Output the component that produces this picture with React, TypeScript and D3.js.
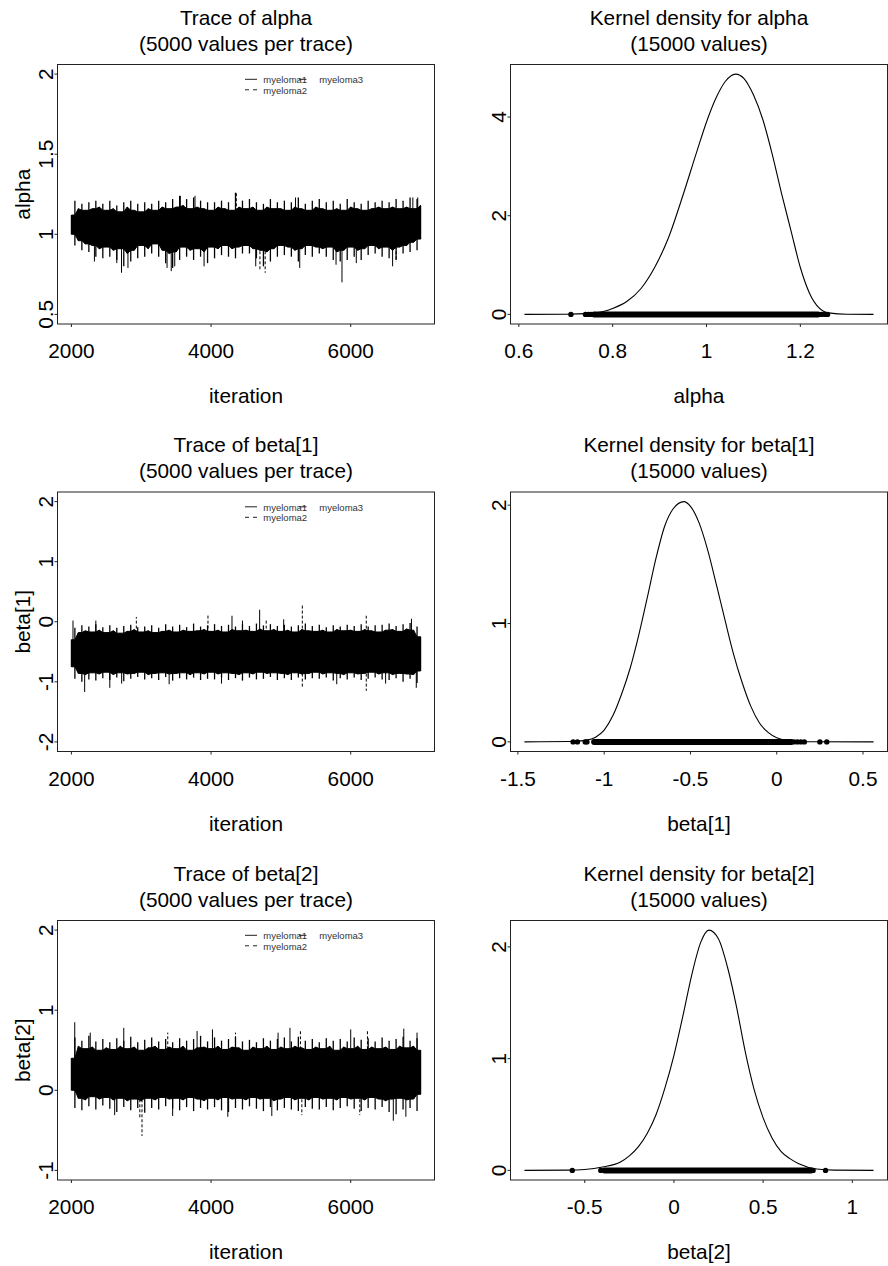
import React from "react";
import * as d3 from "d3";

// ---------- data ----------
const iterTicks = [2000, 4000, 6000];
const iterGrid = d3.range(2000, 7001, 50); // 101 points of the trace envelope

const alphaHi = [
  1.12,1.21,1.16,1.19,1.15,1.20,1.16,1.21,1.17,1.19,
  1.15,1.21,1.16,1.18,1.14,1.20,1.17,1.21,1.15,1.19,
  1.14,1.20,1.16,1.19,1.15,1.21,1.17,1.20,1.16,1.22,
  1.17,1.24,1.18,1.22,1.16,1.23,1.17,1.21,1.16,1.20,
  1.15,1.20,1.17,1.21,1.16,1.20,1.15,1.26,1.17,1.21,
  1.16,1.22,1.17,1.20,1.15,1.19,1.17,1.22,1.16,1.20,
  1.16,1.21,1.15,1.20,1.17,1.23,1.16,1.19,1.15,1.21,
  1.17,1.22,1.16,1.20,1.15,1.21,1.16,1.19,1.15,1.22,
  1.17,1.20,1.16,1.19,1.15,1.21,1.16,1.20,1.17,1.21,
  1.16,1.20,1.17,1.22,1.16,1.21,1.17,1.23,1.16,1.22,
  1.18];
const alphaLo = [
  1.00,0.93,0.96,0.90,0.94,0.89,0.93,0.86,0.91,0.85,
  0.92,0.86,0.90,0.84,0.91,0.80,0.88,0.83,0.90,0.85,
  0.93,0.86,0.91,0.88,0.94,0.86,0.90,0.82,0.88,0.79,
  0.89,0.84,0.92,0.86,0.90,0.84,0.91,0.86,0.89,0.82,
  0.92,0.85,0.91,0.87,0.93,0.86,0.91,0.85,0.92,0.88,
  0.93,0.88,0.91,0.85,0.90,0.80,0.89,0.83,0.91,0.86,
  0.93,0.87,0.92,0.86,0.90,0.83,0.91,0.87,0.93,0.86,
  0.92,0.88,0.91,0.86,0.92,0.84,0.89,0.83,0.90,0.84,
  0.92,0.86,0.90,0.84,0.91,0.87,0.93,0.88,0.91,0.86,
  0.92,0.85,0.90,0.84,0.92,0.88,0.93,0.89,0.95,0.90,
  0.97];
const alphaSpikes = [
  [2330,0.83,1],[2650,0.82,1],[2718,0.76,1],[2810,0.79,1],[3370,0.79,1],[3430,0.77,1],[3480,0.80,1],
  [3900,0.80,1],[4640,0.80,1],[4700,0.78,2],[4775,0.76,2],[5270,0.79,1],[5790,0.81,1],[5875,0.70,1],
  [6080,0.82,1],[6600,0.80,1],[6650,0.83,2],
  [3560,1.24,1],[3770,1.24,1],[4362,1.26,2],[5210,1.23,1],[6890,1.23,1],[6960,1.23,1],
];

const beta1Hi = [
  -0.30,-0.10,-0.18,-0.06,-0.15,-0.08,-0.17,-0.04,-0.14,-0.09,
  -0.18,-0.06,-0.15,-0.10,-0.19,-0.07,-0.16,-0.05,-0.13,-0.09,
  -0.17,-0.08,-0.15,-0.06,-0.18,-0.10,-0.16,-0.04,-0.14,-0.08,
  -0.17,-0.05,-0.14,-0.09,-0.16,-0.03,-0.15,-0.08,-0.13,-0.06,
  -0.16,-0.04,-0.14,-0.07,-0.17,-0.05,-0.13,-0.08,-0.15,-0.04,
  -0.14,-0.07,-0.16,-0.03,-0.12,-0.06,-0.15,-0.04,-0.13,-0.07,
  -0.16,-0.05,-0.14,-0.08,-0.17,-0.06,-0.13,-0.03,-0.15,-0.07,
  -0.16,-0.05,-0.14,-0.09,-0.17,-0.06,-0.13,-0.08,-0.15,-0.05,
  -0.14,-0.07,-0.16,-0.04,-0.13,-0.08,-0.15,-0.06,-0.17,-0.05,
  -0.14,-0.03,-0.13,-0.07,-0.16,-0.04,-0.12,-0.02,-0.14,-0.08,
  -0.25];
const beta1Lo = [
  -0.75,-0.95,-0.86,-1.00,-0.88,-0.96,-0.85,-0.98,-0.87,-0.94,
  -0.84,-0.97,-0.88,-0.93,-0.85,-0.99,-0.87,-0.95,-0.86,-0.92,
  -0.84,-0.96,-0.88,-0.94,-0.86,-0.97,-0.85,-0.92,-0.87,-0.98,
  -0.86,-0.94,-0.85,-0.96,-0.88,-0.93,-0.85,-0.97,-0.87,-0.95,
  -0.84,-0.96,-0.87,-0.93,-0.85,-0.97,-0.86,-0.94,-0.88,-0.98,
  -0.85,-0.93,-0.87,-0.96,-0.84,-0.95,-0.86,-0.92,-0.85,-0.97,
  -0.86,-0.94,-0.88,-0.97,-0.85,-0.93,-0.87,-0.96,-0.86,-0.94,
  -0.84,-0.95,-0.87,-0.93,-0.85,-0.98,-0.86,-0.94,-0.88,-0.96,
  -0.85,-0.93,-0.87,-0.97,-0.86,-0.95,-0.84,-0.93,-0.87,-0.96,
  -0.85,-0.97,-0.88,-0.94,-0.86,-1.00,-0.87,-0.95,-0.88,-1.02,
  -0.82];
const beta1Spikes = [
  [2023,0.02,1],[2350,0.02,1],[2930,0.08,2],[3956,0.12,2],[4300,0.10,1],[4450,0.02,1],[4696,0.20,1],
  [4790,0.05,2],[5040,0.04,1],[5307,0.28,2],[6223,0.10,2],[6870,0.05,1],
  [2190,-1.17,1],[2550,-1.10,1],[2720,-1.03,1],[3400,-1.04,1],[4150,-1.03,1],[5307,-1.10,2],
  [5800,-1.04,1],[6223,-1.15,2],[6500,-1.03,1],[6939,-1.10,1],
];

const beta2Hi = [
  0.40,0.66,0.55,0.62,0.52,0.68,0.54,0.61,0.50,0.64,
  0.53,0.60,0.51,0.65,0.55,0.62,0.52,0.67,0.54,0.60,
  0.50,0.63,0.53,0.66,0.55,0.61,0.51,0.64,0.54,0.60,
  0.52,0.65,0.55,0.62,0.50,0.64,0.53,0.68,0.54,0.61,
  0.52,0.66,0.55,0.62,0.51,0.64,0.54,0.67,0.53,0.61,
  0.50,0.63,0.54,0.60,0.52,0.65,0.55,0.62,0.51,0.64,
  0.54,0.66,0.52,0.61,0.55,0.67,0.53,0.62,0.51,0.64,
  0.54,0.60,0.52,0.65,0.55,0.62,0.50,0.64,0.54,0.61,
  0.52,0.66,0.55,0.63,0.51,0.65,0.54,0.61,0.52,0.66,
  0.54,0.62,0.51,0.64,0.55,0.67,0.53,0.62,0.55,0.65,
  0.50];
const beta2Lo = [
  0.00,-0.22,-0.10,-0.25,-0.12,-0.20,-0.08,-0.24,-0.11,-0.19,
  -0.09,-0.23,-0.12,-0.27,-0.10,-0.21,-0.13,-0.25,-0.11,-0.22,
  -0.13,-0.28,-0.10,-0.22,-0.12,-0.24,-0.09,-0.20,-0.11,-0.23,
  -0.10,-0.25,-0.12,-0.21,-0.09,-0.26,-0.11,-0.22,-0.13,-0.24,
  -0.10,-0.21,-0.12,-0.25,-0.09,-0.27,-0.11,-0.22,-0.10,-0.24,
  -0.12,-0.20,-0.09,-0.23,-0.11,-0.26,-0.10,-0.21,-0.13,-0.25,
  -0.11,-0.22,-0.09,-0.24,-0.12,-0.26,-0.10,-0.21,-0.12,-0.23,
  -0.09,-0.24,-0.11,-0.21,-0.10,-0.25,-0.12,-0.22,-0.09,-0.20,
  -0.11,-0.23,-0.10,-0.26,-0.12,-0.22,-0.09,-0.24,-0.11,-0.21,
  -0.13,-0.27,-0.11,-0.30,-0.10,-0.24,-0.12,-0.22,-0.11,-0.26,
  -0.05];
const beta2Spikes = [
  [2048,0.85,1],[2270,0.72,1],[2750,0.78,1],[3380,0.72,2],[3800,0.74,1],[4020,0.76,1],[4350,0.72,2],
  [4960,0.72,1],[5130,0.78,1],[5280,0.74,2],[6000,0.76,1],[6240,0.74,2],[6760,0.77,1],[6950,0.72,1],
  [2620,-0.31,1],[2980,-0.35,2],[3011,-0.57,2],[3450,-0.32,1],[4240,-0.33,1],[4870,-0.32,1],
  [5300,-0.31,2],[6130,-0.31,2],[6610,-0.38,1],[6790,-0.33,1],
];

const alphaDensX = [0.612,0.70,0.75,0.78,0.80,0.83,0.86,0.89,0.92,0.95,0.98,1.00,1.02,1.04,1.062,1.08,1.10,1.12,1.14,1.16,1.18,1.20,1.22,1.24,1.26,1.30,1.356];
const alphaDensY = [0,0.003,0.02,0.06,0.12,0.26,0.52,0.96,1.58,2.42,3.32,3.90,4.38,4.72,4.87,4.78,4.45,3.95,3.25,2.45,1.7,0.95,0.42,0.13,0.03,0.002,0];
const beta1DensX = [-1.462,-1.2,-1.1,-1.05,-1.0,-0.95,-0.9,-0.85,-0.8,-0.75,-0.7,-0.65,-0.6,-0.538,-0.5,-0.45,-0.4,-0.35,-0.3,-0.25,-0.2,-0.15,-0.1,-0.05,0.0,0.1,0.2,0.561];
const beta1DensY = [0,0.003,0.015,0.04,0.1,0.22,0.4,0.62,0.9,1.22,1.55,1.82,1.97,2.03,1.99,1.85,1.62,1.33,1.03,0.74,0.50,0.30,0.16,0.08,0.035,0.006,0.001,0];
const beta2DensX = [-0.838,-0.6,-0.5,-0.4,-0.3,-0.25,-0.2,-0.15,-0.1,-0.05,0.0,0.05,0.1,0.15,0.196,0.25,0.3,0.35,0.4,0.45,0.5,0.55,0.6,0.65,0.7,0.8,0.9,1.119];
const beta2DensY = [0,0.002,0.008,0.03,0.075,0.13,0.21,0.33,0.50,0.74,1.03,1.38,1.75,2.04,2.15,2.07,1.82,1.47,1.06,0.72,0.47,0.29,0.17,0.105,0.06,0.012,0.002,0];

// rug: continuous band [lo, hi] plus isolated points
const alphaRugBand = [0.76, 1.238];
const alphaRugPts = [0.711, 0.742, 0.748, 0.754, 1.245, 1.252, 1.258];
const beta1RugBand = [-1.06, 0.085];
const beta1RugPts = [-1.18, -1.155, -1.11, -1.10, 0.10, 0.12, 0.14, 0.16, 0.25, 0.29];
const beta2RugBand = [-0.39, 0.77];
const beta2RugPts = [-0.57, -0.41, 0.78, 0.85];

const params = ["alpha", "beta[1]", "beta[2]"];
const traceYLim = [[0.5, 2], [-2, 2], [-1, 2]];
const traceYTicks = [[0.5, 1, 1.5, 2], [-2, -1, 0, 1, 2], [-1, 0, 1, 2]];
const traceCenter = [1.05, -0.53, 0.2];
const densXTicks = [[0.6, 0.8, 1, 1.2], [-1.5, -1, -0.5, 0, 0.5], [-0.5, 0, 0.5, 1]];
const densYTicks = [[0, 2, 4], [0, 1, 2], [0, 1, 2]];
const chainNames = ["myeloma1", "myeloma2", "myeloma3"];

const traceHi = [alphaHi, beta1Hi, beta2Hi];
const traceLo = [alphaLo, beta1Lo, beta2Lo];
const traceSpikes = [alphaSpikes, beta1Spikes, beta2Spikes];
const densX = [alphaDensX, beta1DensX, beta2DensX];
const densY = [alphaDensY, beta1DensY, beta2DensY];
const rugBand = [alphaRugBand, beta1RugBand, beta2RugBand];
const rugPts = [alphaRugPts, beta1RugPts, beta2RugPts];

// ---------- layout ----------
const W = 888, H = 1266;
const rowTop = [64.5, 492, 920.5];
const boxH = 259.5;
const traceL = 57.5, traceR = 434.5;
const densL = 510.5, densR = 887.5;
const FONT = "'Liberation Sans', Arial, Helvetica, sans-serif";
const FS = 20.8;

function padDomain(lo: number, hi: number) {
  const p = (hi - lo) * 0.04;
  return [lo - p, hi + p];
}

function TracePanel({ r }: { r: number }) {
  const top = rowTop[r], bot = top + boxH;
  const x = d3.scaleLinear().domain(padDomain(2001, 7000)).range([traceL, traceR]);
  const [ylo, yhi] = traceYLim[r];
  const y = d3.scaleLinear().domain(padDomain(ylo, yhi)).range([bot, top]);
  const hi = traceHi[r], lo = traceLo[r];
  const n = hi.length;
  // solid core: the inner edge of each 3-point neighbourhood; needles reach out to every envelope value
  const pts = iterGrid.map((it, i) => {
    const a = Math.max(0, i - 1), b = Math.min(n, i + 2);
    return {
      it: Math.max(it, 2001),
      hi: hi[i], lo: lo[i],
      coreHi: d3.min(hi.slice(a, b))!,
      coreLo: d3.max(lo.slice(a, b))!,
    };
  });
  const area = d3.area<any>().x((d) => x(d.it)).y0((d) => y(d.coreLo)).y1((d) => y(d.coreHi));
  const cx = (traceL + traceR) / 2;
  const cy = (top + bot) / 2;
  const lx = 245, tx = 263.3;
  return (
    <g>
      <g>
        <path d={area(pts) || ""} fill="#000" stroke="#000" strokeWidth={1} />
        {pts.map((d, i) => (
          <line key={"n" + i} x1={x(d.it)} x2={x(d.it)} y1={y(d.lo)} y2={y(d.hi)} stroke="#000" strokeWidth={1.3} />
        ))}
        {traceSpikes[r].map((s, i) => (
          <line key={i} x1={x(s[0])} x2={x(s[0])} y1={y(traceCenter[r])} y2={y(s[1])}
            stroke="#000" strokeWidth={1} strokeDasharray={s[2] === 2 ? "3,2" : undefined} />
        ))}
      </g>
      <rect x={traceL} y={top} width={traceR - traceL} height={boxH} fill="none" stroke="#222" strokeWidth={1} />
      {iterTicks.map((t) => (
        <g key={t}>
          <line x1={x(t)} x2={x(t)} y1={bot} y2={bot + 3} stroke="#222" />
          <text x={x(t)} y={bot + 34} textAnchor="middle" fontSize={FS} fontFamily={FONT}>{t}</text>
        </g>
      ))}
      {traceYTicks[r].map((t) => (
        <g key={t}>
          <line x1={traceL - 3} x2={traceL} y1={y(t)} y2={y(t)} stroke="#222" />
          <text transform={`translate(${traceL - 4.5},${y(t)}) rotate(-90)`} textAnchor="middle" fontSize={FS} fontFamily={FONT}>{String(t)}</text>
        </g>
      ))}
      <text transform={`translate(29.5,${cy}) rotate(-90)`} textAnchor="middle" fontSize={FS} fontFamily={FONT}>{params[r]}</text>
      <text x={cx} y={bot + 79} textAnchor="middle" fontSize={FS} fontFamily={FONT}>iteration</text>
      <text x={cx} y={top - 40} textAnchor="middle" fontSize={FS} fontFamily={FONT}>{`Trace of ${params[r]}`}</text>
      <text x={cx} y={top - 14} textAnchor="middle" fontSize={FS} fontFamily={FONT}>(5000 values per trace)</text>
      {/* legend */}
      <g fontFamily={FONT} fontSize={9.5} fill="#333">
        <line x1={lx} x2={lx + 12} y1={top + 14.8} y2={top + 14.8} stroke="#222" strokeWidth={1} />
        <text x={tx} y={top + 18.5}>{chainNames[0]}</text>
        <line x1={299} x2={306.5} y1={top + 14.8} y2={top + 14.8} stroke="#222" strokeWidth={1} />
        <text x={319.3} y={top + 18.5}>{chainNames[2]}</text>
        <line x1={lx} x2={lx + 12} y1={top + 25.3} y2={top + 25.3} stroke="#222" strokeWidth={1} strokeDasharray="4,4" />
        <text x={tx} y={top + 29}>{chainNames[1]}</text>
      </g>
    </g>
  );
}

function DensityPanel({ r }: { r: number }) {
  const top = rowTop[r], bot = top + boxH;
  const xs = densX[r], ys = densY[r];
  const x = d3.scaleLinear().domain(padDomain(d3.min(xs)!, d3.max(xs)!)).range([densL, densR]);
  const peak = d3.max(ys)!;
  const y = d3.scaleLinear().domain(padDomain(0, peak)).range([bot, top]);
  const pts = xs.map((v, i) => [v, ys[i]] as [number, number]);
  const line = d3.line<[number, number]>().x((d) => x(d[0])).y((d) => y(d[1])).curve(d3.curveMonotoneX);
  const cx = (densL + densR) / 2;
  const y0 = y(0);
  const [bl, bh] = rugBand[r];
  return (
    <g>
      <path d={line(pts) || ""} fill="none" stroke="#000" strokeWidth={1.1} />
      <rect x={x(bl) - 2.7} y={y0 - 3} width={x(bh) - x(bl) + 5.4} height={6} rx={2.8} fill="#000" />
      {rugPts[r].map((v, i) => (
        <circle key={i} cx={x(v)} cy={y0} r={2.7} fill="#000" />
      ))}
      <rect x={densL} y={top} width={densR - densL} height={boxH} fill="none" stroke="#222" strokeWidth={1} />
      {densXTicks[r].map((t) => (
        <g key={t}>
          <line x1={x(t)} x2={x(t)} y1={bot} y2={bot + 3} stroke="#222" />
          <text x={x(t)} y={bot + 34} textAnchor="middle" fontSize={FS} fontFamily={FONT}>{String(t)}</text>
        </g>
      ))}
      {densYTicks[r].map((t) => (
        <g key={t}>
          <line x1={densL - 3} x2={densL} y1={y(t)} y2={y(t)} stroke="#222" />
          <text transform={`translate(${densL - 4.5},${y(t)}) rotate(-90)`} textAnchor="middle" fontSize={FS} fontFamily={FONT}>{String(t)}</text>
        </g>
      ))}
      <text x={cx} y={bot + 79} textAnchor="middle" fontSize={FS} fontFamily={FONT}>{params[r]}</text>
      <text x={cx} y={top - 40} textAnchor="middle" fontSize={FS} fontFamily={FONT}>{`Kernel density for ${params[r]}`}</text>
      <text x={cx} y={top - 14} textAnchor="middle" fontSize={FS} fontFamily={FONT}>(15000 values)</text>
    </g>
  );
}

export default function App() {
  return (
    <svg width={W} height={H} viewBox={`0 0 ${W} ${H}`}
      style={{ position: "absolute", left: 0, top: 0, background: "#fff" }}>
      <rect width={W} height={H} fill="#fff" />
      {[0, 1, 2].map((r) => (
        <g key={r}>
          <TracePanel r={r} />
          <DensityPanel r={r} />
        </g>
      ))}
    </svg>
  );
}
